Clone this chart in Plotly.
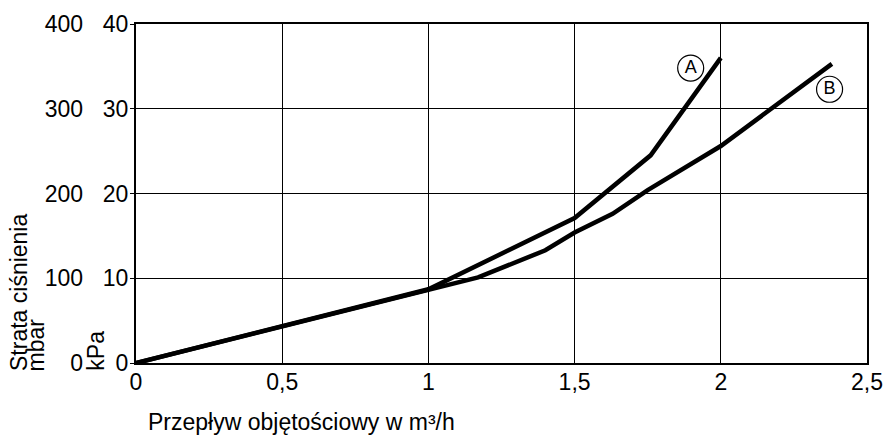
import plotly.graph_objects as go

# Flow in m3/h and pressure loss in kPa
flow_a = [0, 1.0, 1.5, 1.76, 2.0]
loss_a = [0, 8.7, 17.1, 24.5, 36.0]

flow_b = [0, 1.0, 1.17, 1.4, 1.5, 1.63, 1.75, 2.0, 2.38]
loss_b = [0, 8.7, 10.1, 13.3, 15.4, 17.6, 20.4, 25.6, 35.3]

x_ticks = [0, 0.5, 1, 1.5, 2, 2.5]
x_labels = ["0", "0,5", "1", "1,5", "2", "2,5"]
kpa_ticks = [0, 10, 20, 30, 40]
mbar_ticks = [0, 100, 200, 300, 400]

FONT = "Liberation Sans, Arial, sans-serif"

fig = go.Figure()

for flow, loss in [(flow_a, loss_a), (flow_b, loss_b)]:
    fig.add_trace(go.Scatter(
        x=flow, y=loss, mode="lines",
        line=dict(color="black", width=4.5),
        showlegend=False, hoverinfo="skip",
    ))

# circled curve labels
fig.add_trace(go.Scatter(
    x=[1.897, 2.372], y=[34.8, 32.3],
    mode="markers+text", text=["A", "B"],
    textposition="middle center",
    textfont=dict(family=FONT, size=18, color="black"),
    marker=dict(symbol="circle-open", size=26, color="black", line=dict(width=1.2)),
    showlegend=False, hoverinfo="skip",
))

# dummy trace for the mbar axis
fig.add_trace(go.Scatter(x=[0], y=[0], yaxis="y2", mode="markers",
                         marker=dict(opacity=0), showlegend=False, hoverinfo="skip"))

tick_font = dict(family=FONT, size=23, color="black")
label_font = dict(family=FONT, size=23, color="black")

axis_common = dict(
    showline=True, linecolor="black", linewidth=2,
    showgrid=True, gridcolor="black", gridwidth=1.3,
    zeroline=False, mirror=True, automargin=False,
    tickfont=tick_font,
)

fig.update_layout(
    width=885, height=436,
    margin=dict(l=136, r=18, t=24, b=73),
    plot_bgcolor="white", paper_bgcolor="white",
    xaxis=dict(range=[0, 2.5], tickvals=x_ticks, ticktext=x_labels,
               ticks="", ticklabelstandoff=-3, **axis_common),
    yaxis=dict(range=[0, 40], tickvals=kpa_ticks, ticks="outside",
               ticklen=4, tickcolor="black", ticklabelstandoff=-3,
               **axis_common),
    yaxis2=dict(range=[0, 400], tickvals=mbar_ticks, overlaying="y",
                side="left", anchor="x", showgrid=False, showline=False,
                zeroline=False, ticks="", ticklabelstandoff=52,
                automargin=False, tickfont=tick_font),
    annotations=[
        dict(text="Przepływ objętościowy w m³/h", xref="paper", yref="paper",
             x=0.014, y=-0.174, xanchor="left", yanchor="middle",
             showarrow=False, font=label_font),
        dict(text="Strata ciśnienia", xref="paper", yref="paper",
             x=-0.161, y=-0.03, xanchor="center", yanchor="bottom",
             textangle=-90, showarrow=False, font=label_font),
        dict(text="mbar", xref="paper", yref="paper",
             x=-0.137, y=-0.03, xanchor="center", yanchor="bottom",
             textangle=-90, showarrow=False, font=label_font),
        dict(text="kPa", xref="paper", yref="paper",
             x=-0.054, y=-0.03, xanchor="center", yanchor="bottom",
             textangle=-90, showarrow=False, font=label_font),
    ],
)

# drop the default 8px body margin so the figure fills the window exactly
fig.write_html("out.html", config={"displayModeBar": False},
               post_script="document.body.style.margin = '0';")
